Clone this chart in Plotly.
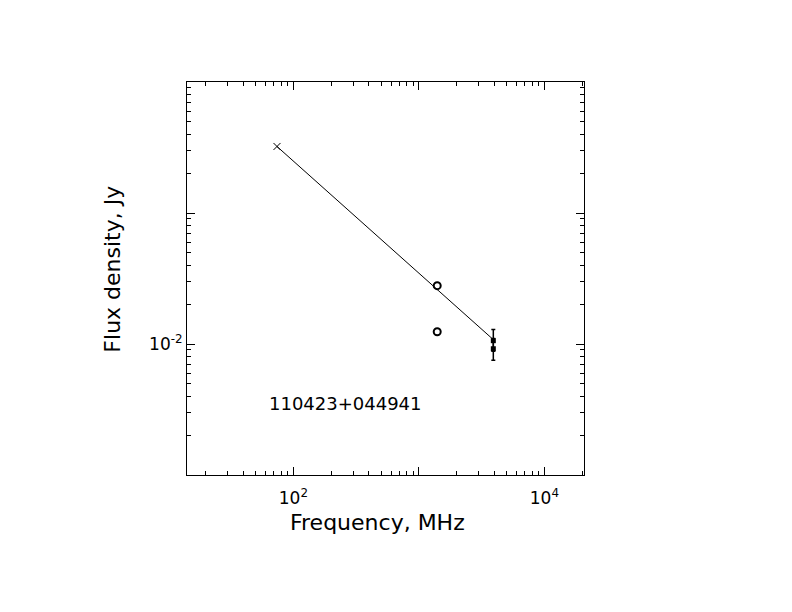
import plotly.graph_objects as go

# gemeten fluxdichtheden (MHz, Jy)
vlss_freq = [74]
vlss_flux = [0.322]

circ_freq = [1400, 1400]
circ_flux = [0.0279, 0.0124]

hf_freq = [3920, 3920]
hf_flux = [0.0106, 0.0092]
hf_err_plus = [0.0023, 0.0018]
hf_err_minus = [0.0018, 0.0017]

# spectrale fit
fit_freq = [74, 3920]
fit_flux = [0.322, 0.0108]

source_name = "110423+044941"

# gelabelde en ongelabelde decades
x_major = [100, 10000]
x_major_text = ["10<sup>2</sup>", "10<sup>4</sup>"]
x_major_blank = [10, 1000]
y_major = [0.01]
y_major_text = ["10<sup>-2</sup>"]
y_major_blank = [0.001, 0.1, 1]

x_minor = [m * 10 ** e for e in range(1, 5) for m in range(2, 10)]
y_minor = [m * 10 ** e for e in range(-3, 0) for m in range(2, 10)]

fnt = "DejaVu Sans"
x_rng = [1.152, 4.316]
y_rng = [-3, 0]

fig = go.Figure()
fig.add_trace(go.Scatter(x=fit_freq, y=fit_flux, mode="lines",
                         line=dict(color="black", width=1)))
fig.add_trace(go.Scatter(x=vlss_freq, y=vlss_flux, mode="markers",
                         marker=dict(symbol="x-thin", size=7, color="black",
                                     line=dict(color="black", width=1))))
fig.add_trace(go.Scatter(x=circ_freq, y=circ_flux, mode="markers",
                         marker=dict(symbol="circle-open", size=7, color="black",
                                     line=dict(color="black", width=2))))
fig.add_trace(go.Scatter(x=hf_freq, y=hf_flux, mode="markers",
                         marker=dict(symbol="square", size=5, color="black"),
                         error_y=dict(type="data", symmetric=False,
                                      array=hf_err_plus, arrayminus=hf_err_minus,
                                      color="black", thickness=1.5, width=2)))
# lege trace zodat de tweede assen getekend worden
fig.add_trace(go.Scatter(x=[], y=[], xaxis="x2", yaxis="y2", mode="markers"))

fig.update_layout(
    xaxis=dict(type="log", range=x_rng,
               showline=True, linecolor="black", linewidth=1, mirror="allticks",
               ticks="inside", ticklen=8, tickcolor="black",
               tickmode="array", tickvals=x_major, ticktext=x_major_text,
               minor=dict(tickmode="array", tickvals=x_minor, ticks="inside",
                          ticklen=4, tickcolor="black", showgrid=False),
               showgrid=False, zeroline=False, ticklabelstandoff=8,
               tickfont=dict(family=fnt, size=17, color="black")),
    yaxis=dict(type="log", range=y_rng,
               showline=True, linecolor="black", linewidth=1, mirror="allticks",
               ticks="inside", ticklen=8, tickcolor="black",
               tickmode="array", tickvals=y_major, ticktext=y_major_text,
               minor=dict(tickmode="array", tickvals=y_minor, ticks="inside",
                          ticklen=4, tickcolor="black", showgrid=False),
               showgrid=False, zeroline=False,
               tickfont=dict(family=fnt, size=17, color="black")),
    xaxis2=dict(type="log", range=x_rng, overlaying="x", anchor="y2",
                showline=True, linecolor="black", mirror="allticks",
                ticks="inside", ticklen=8, tickcolor="black",
                tickmode="array", tickvals=x_major_blank,
                showticklabels=False, showgrid=False, zeroline=False),
    yaxis2=dict(type="log", range=y_rng, overlaying="y", anchor="x2",
                showline=True, linecolor="black", mirror="allticks",
                ticks="inside", ticklen=8, tickcolor="black",
                tickmode="array", tickvals=y_major_blank,
                showticklabels=False, showgrid=False, zeroline=False),
)

fig.add_annotation(text="Frequency, MHz", xref="paper", yref="paper",
                   x=0.479, y=-0.122, xanchor="center", yanchor="middle",
                   showarrow=False,
                   font=dict(family=fnt, size=22, color="black"))
fig.add_annotation(text="Flux density, Jy", xref="paper", yref="paper",
                   x=-0.19, y=0.524, xanchor="center", yanchor="middle",
                   textangle=-90, showarrow=False,
                   font=dict(family=fnt, size=22, color="black"))
fig.add_annotation(text=source_name, xref="paper", yref="paper",
                   x=0.201, y=0.182, xanchor="left", yanchor="middle",
                   showarrow=False,
                   font=dict(family=fnt, size=18, color="black"))

# de pagina heeft 8px marge, daarom links/boven 8px minder
fig.update_layout(width=792, height=612, showlegend=False,
                  plot_bgcolor="white", paper_bgcolor="white",
                  margin=dict(l=179, r=216, t=74, b=145))
fig.write_html("out.html")
